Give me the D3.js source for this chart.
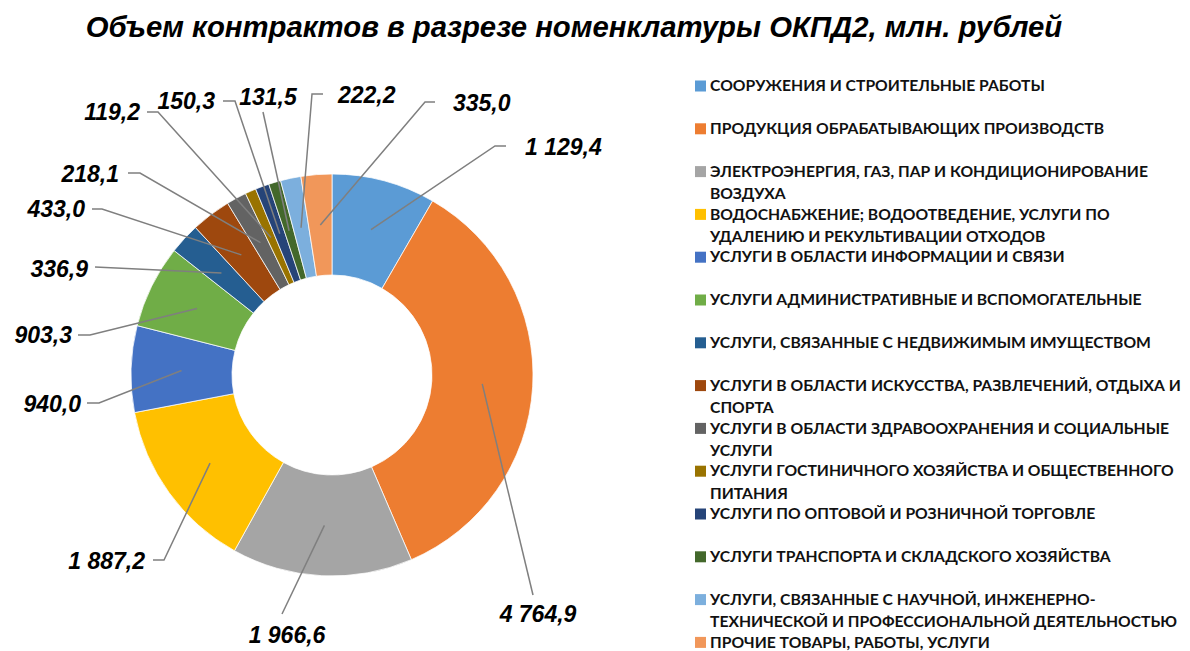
<!DOCTYPE html>
<html>
<head>
<meta charset="utf-8">
<script src="https://cdn.jsdelivr.net/npm/d3@7"></script>
<style>
  body { margin: 0; background: #ffffff; }
  svg { display: block; }
</style>
</head>
<body>
<div id="chart"></div>
<script>
const title = "Объем контрактов в разрезе номенклатуры ОКПД2, млн. рублей";

// категории (строки легенды уже разбиты так, как в исходнике)
const categories = [
  ["СООРУЖЕНИЯ И СТРОИТЕЛЬНЫЕ РАБОТЫ"],
  ["ПРОДУКЦИЯ ОБРАБАТЫВАЮЩИХ ПРОИЗВОДСТВ"],
  ["ЭЛЕКТРОЭНЕРГИЯ, ГАЗ, ПАР И КОНДИЦИОНИРОВАНИЕ", "ВОЗДУХА"],
  ["ВОДОСНАБЖЕНИЕ; ВОДООТВЕДЕНИЕ, УСЛУГИ ПО", "УДАЛЕНИЮ И РЕКУЛЬТИВАЦИИ ОТХОДОВ"],
  ["УСЛУГИ В ОБЛАСТИ ИНФОРМАЦИИ И СВЯЗИ"],
  ["УСЛУГИ АДМИНИСТРАТИВНЫЕ И ВСПОМОГАТЕЛЬНЫЕ"],
  ["УСЛУГИ, СВЯЗАННЫЕ С НЕДВИЖИМЫМ ИМУЩЕСТВОМ"],
  ["УСЛУГИ В ОБЛАСТИ ИСКУССТВА, РАЗВЛЕЧЕНИЙ, ОТДЫХА И", "СПОРТА"],
  ["УСЛУГИ В ОБЛАСТИ ЗДРАВООХРАНЕНИЯ И СОЦИАЛЬНЫЕ", "УСЛУГИ"],
  ["УСЛУГИ ГОСТИНИЧНОГО ХОЗЯЙСТВА И ОБЩЕСТВЕННОГО", "ПИТАНИЯ"],
  ["УСЛУГИ ПО ОПТОВОЙ И РОЗНИЧНОЙ ТОРГОВЛЕ"],
  ["УСЛУГИ ТРАНСПОРТА И СКЛАДСКОГО ХОЗЯЙСТВА"],
  ["УСЛУГИ, СВЯЗАННЫЕ С НАУЧНОЙ, ИНЖЕНЕРНО-", "ТЕХНИЧЕСКОЙ И ПРОФЕССИОНАЛЬНОЙ ДЕЯТЕЛЬНОСТЬЮ"],
  ["ПРОЧИЕ ТОВАРЫ, РАБОТЫ, УСЛУГИ"]
];

const values = [1129.4, 4764.9, 1966.6, 1887.2, 940.0, 903.3, 336.9, 433.0, 218.1, 119.2, 150.3, 131.5, 222.2, 335.0];

const colors = ["#5b9bd5", "#ed7d31", "#a5a5a5", "#ffc000", "#4472c4", "#70ad47", "#255e91",
                "#9e480e", "#636363", "#997300", "#264478", "#43682b", "#7cafdd", "#f1975a"];

// подписи расставлены вручную, как в Excel: позиция текста и излом выноски
const labelLayout = [
  { x: 525, y: 147, anchor: "start",  line: [[506, 146], [495, 146]] },
  { x: 538, y: 614, anchor: "middle", line: [[533, 595]] },
  { x: 287, y: 635, anchor: "middle", line: [[282, 614]] },
  { x: 145, y: 561, anchor: "end",    line: [[153, 560], [164, 560]] },
  { x: 81,  y: 404, anchor: "end",    line: [[87, 403], [99, 403]] },
  { x: 72,  y: 335, anchor: "end",    line: [[78, 335], [90, 335]] },
  { x: 88,  y: 269, anchor: "end",    line: [[95, 267]] },
  { x: 85,  y: 209, anchor: "end",    line: [[92, 209], [102, 209]] },
  { x: 119, y: 174, anchor: "end",    line: [[128, 173], [140, 173]] },
  { x: 140, y: 112, anchor: "end",    line: [[147, 112], [158, 112]] },
  { x: 215, y: 101, anchor: "end",    line: [[223, 101], [235, 101]] },
  { x: 268, y: 97,  anchor: "middle", line: [[263, 112]] },
  { x: 338, y: 95,  anchor: "start",  line: [[323, 94], [312, 94]] },
  { x: 453, y: 103, anchor: "start",  line: [[435, 102], [425, 102]] }
];

const width = 1190, height = 651;
const cx = 332, cy = 375;
const rOuter = 201, rInner = 100;

const ru = d3.formatLocale({ decimal: ",", thousands: " ", grouping: [3], currency: ["", ""] });
const fmt = ru.format(",.1f");

const svg = d3.select("#chart")
  .append("svg")
    .attr("width", width)
    .attr("height", height);

svg.append("text")
  .attr("x", 574)
  .attr("y", 37)
  .attr("text-anchor", "middle")
  .style("font-family", "'Liberation Sans', Arial, sans-serif")
  .style("font-weight", "bold")
  .style("font-style", "italic")
  .style("font-size", "29.3px")
  .attr("fill", "#000")
  .text(title);

const pie = d3.pie().sort(null).value(function(d) { return d; });
const arcs = pie(values);

const arc = d3.arc().innerRadius(rInner).outerRadius(rOuter);

const donut = svg.append("g")
  .attr("transform", "translate(" + cx + "," + cy + ")");

donut.selectAll("path")
  .data(arcs).enter()
  .append("path")
    .attr("d", arc)
    .attr("fill", function(d, i) { return colors[i]; })
    .attr("stroke", "#ffffff")
    .attr("stroke-width", 0.75);

// выноски
const line = d3.line();

svg.selectAll("path.leader")
  .data(arcs).enter()
  .append("path")
    .attr("class", "leader")
    .attr("d", function(d, i) {
      const c = arc.centroid(d);
      return line(labelLayout[i].line.concat([[cx + c[0], cy + c[1]]]));
    })
    .attr("fill", "none")
    .attr("stroke", "#7f7f7f")
    .attr("stroke-width", 1.5);

svg.selectAll("text.value")
  .data(values).enter()
  .append("text")
    .attr("class", "value")
    .attr("x", function(d, i) { return labelLayout[i].x; })
    .attr("y", function(d, i) { return labelLayout[i].y; })
    .attr("dy", "0.36em")
    .attr("text-anchor", function(d, i) { return labelLayout[i].anchor; })
    .style("font-family", "'Liberation Sans', Arial, sans-serif")
    .style("font-weight", "bold")
    .style("font-style", "italic")
    .style("font-size", "23px")
    .attr("fill", "#000")
    .text(function(d) { return fmt(d); });

// легенда
const legend = svg.append("g");

const item = legend.selectAll("g")
  .data(categories).enter()
  .append("g")
    .attr("transform", function(d, i) { return "translate(695," + (85.5 + i * 42.8) + ")"; });

item.append("rect")
  .attr("x", 0)
  .attr("y", -5)
  .attr("width", 11)
  .attr("height", 11)
  .attr("fill", function(d, i) { return colors[i]; });

item.append("text")
  .attr("x", 15)
  .style("font-family", "Lato, 'Open Sans', sans-serif")
  .style("font-weight", "bold")
  .style("font-size", "15.7px")
  .attr("fill", "#111")
  .selectAll("tspan")
  .data(function(d) { return d; }).enter()
  .append("tspan")
    .attr("x", 15)
    .attr("y", function(d, j) { return j * 22.5; })
    .attr("dy", "0.36em")
    .text(function(d) { return d; });
</script>
</body>
</html>
